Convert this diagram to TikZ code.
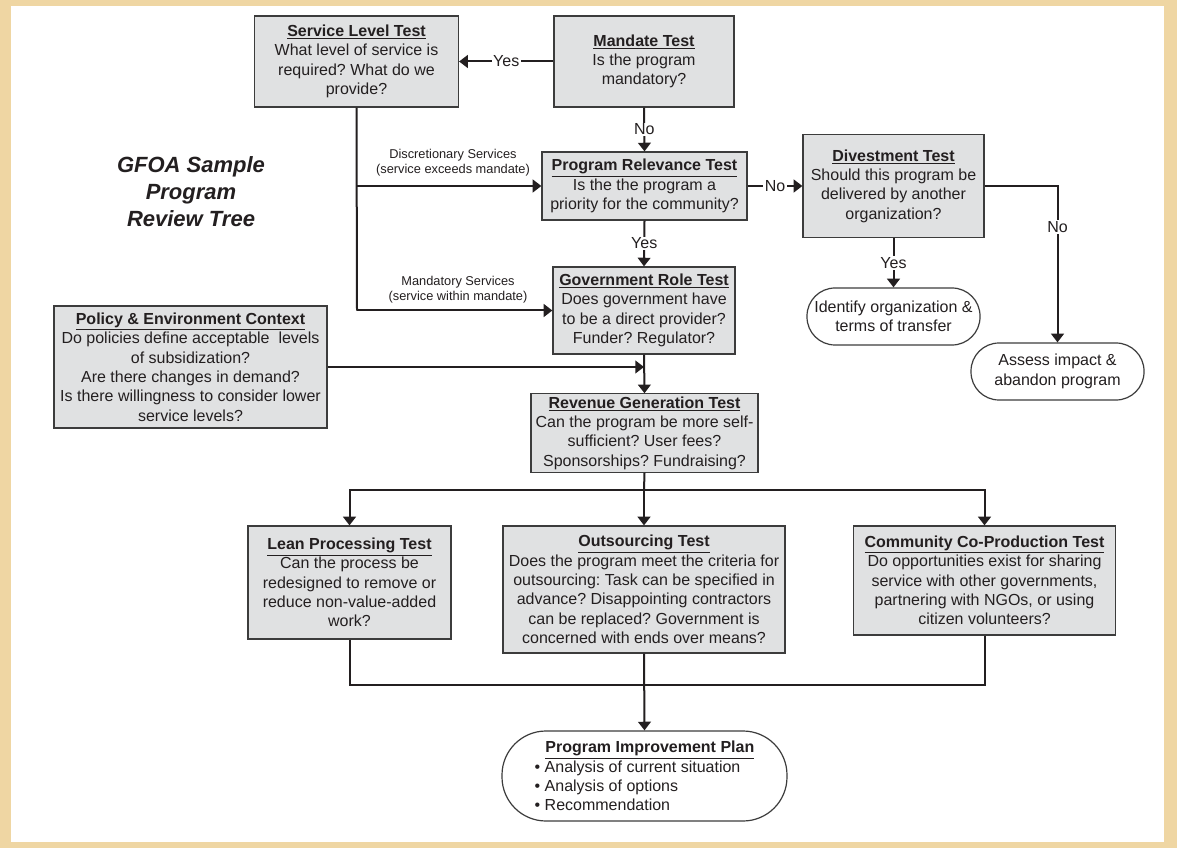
\documentclass[tikz,border=0pt]{standalone}
\usepackage{fontspec}
\setmainfont{Liberation Sans}
\usetikzlibrary{arrows.meta}
\frenchspacing

\definecolor{framebeige}{RGB}{239,214,163}
\definecolor{boxgray}{RGB}{224,225,226}
\definecolor{edgegray}{RGB}{60,60,60}
\definecolor{inkdark}{RGB}{35,31,32}

\newcommand{\testtitle}[1]{\underline{\textbf{#1}}}

\begin{document}
\begin{tikzpicture}[x=0.75pt,y=0.75pt,yscale=-1,xscale=1,
  testbox/.style={draw=edgegray, fill=boxgray, line width=0.9pt, align=center, inner sep=2pt, text=inkdark, font=\fontsize{12}{14.5}\selectfont},
  endcap/.style={draw=edgegray, fill=white, line width=0.9pt, align=center, inner sep=2pt, text=inkdark, font=\fontsize{12}{14.5}\selectfont},
  flow/.style={draw=inkdark, line width=1.5pt},
  flowarrow/.style={flow, -{Triangle[length=6.5pt,width=9.5pt]}},
  answer/.style={fill=white, inner sep=1pt, text=inkdark, font=\fontsize{12}{14}\selectfont},
  servnote/.style={align=center, text=inkdark, font=\fontsize{9.6}{11.3}\selectfont}
]
\useasboundingbox (0,0) rectangle (1177,848);

%Shape: Frame
\fill [framebeige] (0,0) rectangle (1177,848);
\fill [white] (11,6) rectangle (1164,842);

% Text Node
\node [align=center, text=inkdark, font=\fontsize{16.5}{20.25}\selectfont\bfseries\itshape] (title) at (191,192) {GFOA Sample\\Program\\Review Tree};

%Shape: Rectangle
\node [testbox, minimum width=153pt, minimum height=68.25pt] (svclevel) at (356.5,61.5) {\testtitle{Service Level Test}\\What level of service is\\required? What do we\\provide?};
%Shape: Rectangle
\node [testbox, minimum width=135pt, minimum height=68.25pt] (mandate) at (644,61.5) {\testtitle{Mandate Test}\\Is the program\\mandatory?};
%Shape: Rectangle
\node [testbox, minimum width=153.75pt, minimum height=51pt] (relev) at (644.5,186) {\testtitle{Program Relevance Test}\\Is the the program a\\priority for the community?};
%Shape: Rectangle
\node [testbox, minimum width=135.75pt, minimum height=77.25pt] (divest) at (893.5,186) {\testtitle{Divestment Test}\\Should this program be\\delivered by another\\organization?};
%Shape: Rectangle
\node [testbox, minimum width=136.5pt, minimum height=65.25pt] (govrole) at (644,310.5) {\testtitle{Government Role Test}\\Does government have\\to be a direct provider?\\Funder? Regulator?};
%Shape: Rectangle
\node [testbox, minimum width=204.75pt, minimum height=91.5pt] (policy) at (190.5,367) {\testtitle{Policy \& Environment Context}\\Do policies define acceptable\ \ levels\\of subsidization?\\Are there changes in demand?\\Is there willingness to consider lower\\service levels?};
%Shape: Rectangle
\node [testbox, minimum width=170.25pt, minimum height=58.5pt] (revenue) at (644.5,433) {\testtitle{Revenue Generation Test}\\Can the program be more self-\\sufficient? User fees?\\Sponsorships? Fundraising?};
%Shape: Rectangle
\node [testbox, minimum width=152.25pt, minimum height=84.75pt] (lean) at (349.5,582.5) {\testtitle{Lean Processing Test}\\Can the process be\\redesigned to remove or\\reduce non-value-added\\work?};
%Shape: Rectangle
\node [testbox, minimum width=211.5pt, minimum height=95.25pt] (outsrc) at (644,589.5) {\testtitle{Outsourcing Test}\\Does the program meet the criteria for\\outsourcing: Task can be specified in\\advance? Disappointing contractors\\can be replaced? Government is\\concerned with ends over means?};
%Shape: Rectangle
\node [testbox, minimum width=196.5pt, minimum height=81.75pt] (coprod) at (984.5,580.5) {\testtitle{Community Co-Production Test}\\Do opportunities exist for sharing\\service with other governments,\\partnering with NGOs, or using\\citizen volunteers?};

%Shape: Rounded Rectangle
\node [endcap, rounded corners=21pt, minimum width=129.75pt, minimum height=42.75pt] (identify) at (893.5,316.5) {Identify organization \&\\terms of transfer};
%Shape: Rounded Rectangle
\node [endcap, rounded corners=21pt, minimum width=129.75pt, minimum height=42.75pt] (assess) at (1057.5,371.5) {Assess impact \&\\abandon program};
%Shape: Rounded Rectangle
\node [endcap, align=left, rounded corners=33pt, minimum width=213.75pt, minimum height=67.5pt] (pip) at (644.5,776) {\hspace*{8pt}\testtitle{Program Improvement Plan}\\\textbullet\ Analysis of current situation\\\textbullet\ Analysis of options\\\textbullet\ Recommendation};

% Text Node
\node [servnote] (discrnote) at (453,162.5) {Discretionary Services\\(service exceeds mandate)};
% Text Node
\node [servnote] (mandnote) at (458,289.5) {Mandatory Services\\(service within mandate)};

%Straight Lines
\coordinate (discr) at (357,186);
\coordinate (mandy) at (357,310.5);
\coordinate (merge) at (644,367);
\coordinate (split) at (644,490);
\coordinate (gather) at (644,685);

\draw [flowarrow] (mandate.west) -- node [answer] {Yes} (svclevel.east);
\draw [flowarrow] (mandate.south) -- node [answer] {No} (relev.north);
\draw [flowarrow] (relev.east) -- node [answer] {No} (divest.west);
\draw [flowarrow] (relev.south) -- node [answer] {Yes} (govrole.north);
\draw [flow] (svclevel.south) -- (mandy);
\draw [flowarrow] (discr) -- (relev.west);
\draw [flowarrow] (mandy) -- (govrole.west);
\draw [flowarrow] (divest.south) -- node [answer] {Yes} (identify.north);
\draw [flowarrow] (divest.east) -| node [answer, pos=0.63] {No} (assess.north);
\draw [flowarrow] (govrole.south) -- (revenue.north);
\draw [flowarrow] (policy.east) -- (merge);
\draw [flow] (revenue.south) -- (split);
\draw [flowarrow] (split) -| (lean.north);
\draw [flowarrow] (split) -| (coprod.north);
\draw [flowarrow] (split) -- (outsrc.north);
\draw [flow] (lean.south) |- (gather);
\draw [flow] (coprod.south) |- (gather);
\draw [flowarrow] (outsrc.south) -- (pip.north);

\end{tikzpicture}
\end{document}
